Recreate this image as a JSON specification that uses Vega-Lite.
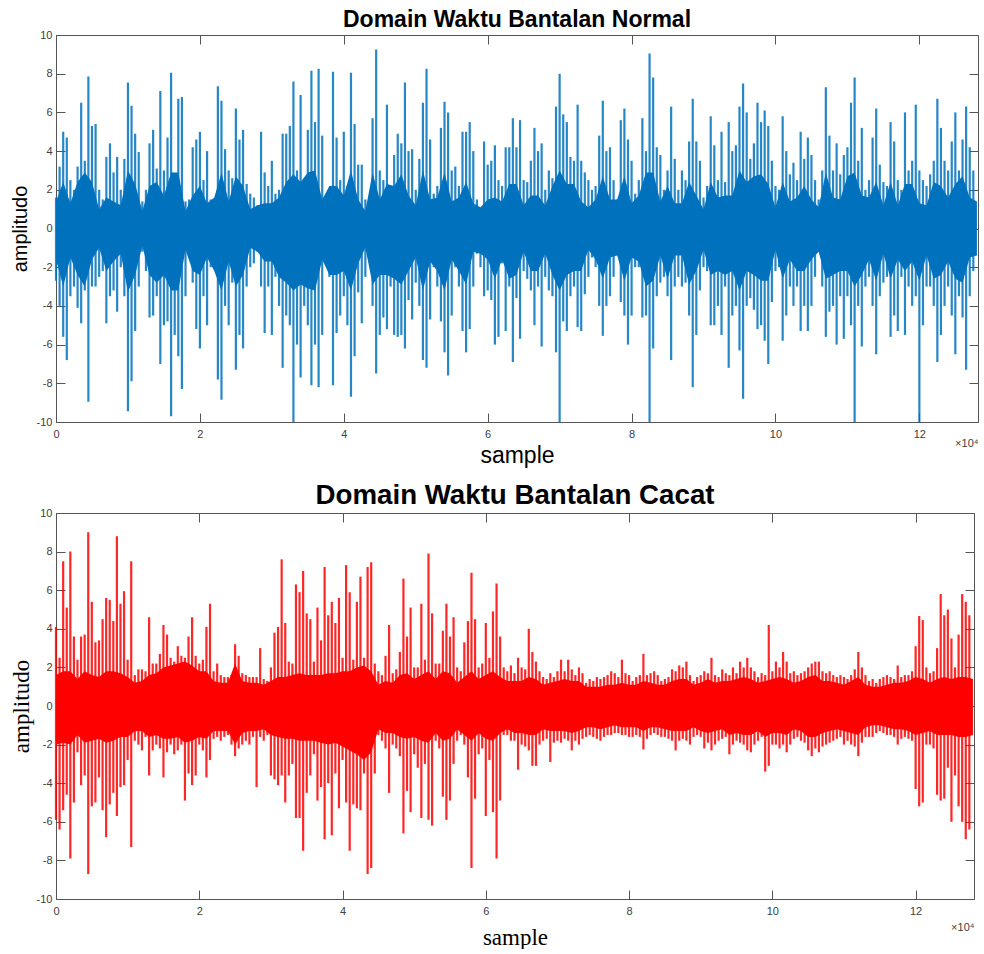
{
"$schema": "https://vega.github.io/schema/vega-lite/v6.json",
"background": "white",
"padding": {"left": 10, "top": 9, "right": 0, "bottom": 0},
"spacing": 15,
"config": {
 "view": {"stroke": null},
 "axis": {"grid": false, "zindex": 1, "domainColor": "#555555", "domainWidth": 1, "tickColor": "#555555", "tickSize": -9, "tickWidth": 1, "labelColor": "#404040", "labelFont": "Liberation Sans", "labelFontSize": 11, "labelPadding": 15, "labelOverlap": false, "labelFlush": false, "titleColor": "#000000", "titleFontWeight": "normal"}
},
"datasets": {
"topBins": [
{"s":0,"h":1.6,"l":-2.7},{"s":500,"h":3.2,"l":-4},{"s":1000,"h":5,"l":-5.6},{"s":1500,"h":4.7,"l":-6.8},{"s":2000,"h":2.5,"l":-3.5},{"s":2500,"h":2,"l":-3},{"s":3000,"h":3.2,"l":-4.1},{"s":3500,"h":6.5,"l":-4.9},{"s":4000,"h":3.5,"l":-3.2},{"s":4500,"h":7.85,"l":-8.95},
{"s":5000,"h":5.3,"l":-3},{"s":5500,"h":5.4,"l":-3},{"s":6000,"h":2,"l":-2.5},{"s":6500,"h":1.5,"l":-2.2},{"s":7000,"h":3.7,"l":-4.9},{"s":7500,"h":4.4,"l":-3.5},{"s":8000,"h":2.9,"l":-3.2},{"s":8500,"h":3.7,"l":-4.3},{"s":9000,"h":2,"l":-2},{"s":9500,"h":3.6,"l":-3.5},
{"s":10000,"h":7.55,"l":-9.45},{"s":10500,"h":6.35,"l":-7.9},{"s":11000,"h":4.9,"l":-5.3},{"s":11500,"h":3.95,"l":-3},{"s":12000,"h":1.4,"l":-1.2},{"s":12500,"h":2,"l":-2.2},{"s":13000,"h":4.4,"l":-4.6},{"s":13500,"h":5.1,"l":-4.5},{"s":14000,"h":3.1,"l":-3.5},{"s":14500,"h":7.1,"l":-7},
{"s":15000,"h":3,"l":-5},{"s":15500,"h":4.7,"l":-4.8},{"s":16000,"h":8.05,"l":-9.7},{"s":16500,"h":2.5,"l":-5.5},{"s":17000,"h":6.7,"l":-6.6},{"s":17500,"h":6.8,"l":-8.3},{"s":18000,"h":1.4,"l":-3.5},{"s":18500,"h":1.5,"l":-1.5},{"s":19000,"h":4.2,"l":-2.8},{"s":19500,"h":4.6,"l":-5.2},
{"s":20000,"h":5,"l":-6.2},{"s":20500,"h":2.5,"l":-3.5},{"s":21000,"h":4,"l":-5},{"s":21500,"h":1.5,"l":-2},{"s":22000,"h":1.2,"l":-1.2},{"s":22500,"h":7.35,"l":-7.8},{"s":23000,"h":6.6,"l":-8.85},{"s":23500,"h":4.1,"l":-4},{"s":24000,"h":3,"l":-5},{"s":24500,"h":2.6,"l":-2.8},
{"s":25000,"h":6.2,"l":-7.3},{"s":25500,"h":4.6,"l":-5.5},{"s":26000,"h":5.1,"l":-6.2},{"s":26500,"h":2.3,"l":-3},{"s":27000,"h":1.8,"l":-2},{"s":27500,"h":1.6,"l":-1.8},{"s":28000,"h":1.2,"l":-1.2},{"s":28500,"h":5,"l":-3},{"s":29000,"h":2.9,"l":-5.4},{"s":29500,"h":2.2,"l":-3},
{"s":30000,"h":3.5,"l":-5.5},{"s":30500,"h":1.8,"l":-2.5},{"s":31000,"h":2,"l":-4},{"s":31500,"h":4.9,"l":-7.2},{"s":32000,"h":4.9,"l":-4.5},{"s":32500,"h":5.3,"l":-5},{"s":33000,"h":7.6,"l":-10},{"s":33500,"h":3,"l":-6},{"s":34000,"h":6.9,"l":-7.7},{"s":34500,"h":2.2,"l":-4},
{"s":35000,"h":5.1,"l":-5},{"s":35500,"h":8.15,"l":-8.1},{"s":36000,"h":5.5,"l":-6},{"s":36500,"h":8.25,"l":-8.2},{"s":37000,"h":4.8,"l":-5.5},{"s":37500,"h":1.3,"l":-1.5},{"s":38000,"h":2,"l":-2.5},{"s":38500,"h":8.1,"l":-8.1},{"s":39000,"h":4.7,"l":-5.4},{"s":39500,"h":2.5,"l":-4.5},
{"s":40000,"h":5,"l":-3.5},{"s":40500,"h":2.2,"l":-5},{"s":41000,"h":8.05,"l":-8.7},{"s":41500,"h":5.4,"l":-6.6},{"s":42000,"h":3.3,"l":-3.3},{"s":42500,"h":3.3,"l":-4.9},{"s":43000,"h":1.5,"l":-2.5},{"s":43500,"h":1.2,"l":-1.5},{"s":44000,"h":5.7,"l":-4},{"s":44500,"h":9.25,"l":-7.5},
{"s":45000,"h":3,"l":-5.5},{"s":45500,"h":2.5,"l":-4.6},{"s":46000,"h":6.4,"l":-5.2},{"s":46500,"h":2,"l":-3},{"s":47000,"h":3.8,"l":-5.5},{"s":47500,"h":4.9,"l":-5.6},{"s":48000,"h":4.4,"l":-5.5},{"s":48500,"h":7.55,"l":-6.2},{"s":49000,"h":4,"l":-3.7},{"s":49500,"h":4.1,"l":-4.7},
{"s":50000,"h":2,"l":-2.8},{"s":50500,"h":3.6,"l":-4},{"s":51000,"h":6.5,"l":-6.8},{"s":51500,"h":8.25,"l":-7.2},{"s":52000,"h":4.6,"l":-4.7},{"s":52500,"h":1.8,"l":-2},{"s":53000,"h":2.2,"l":-3},{"s":53500,"h":5.2,"l":-4.8},{"s":54000,"h":6.55,"l":-6.4},{"s":54500,"h":6,"l":-7.6},
{"s":55000,"h":3,"l":-4.5},{"s":55500,"h":3.2,"l":-2},{"s":56000,"h":2.2,"l":-3},{"s":56500,"h":5,"l":-5.3},{"s":57000,"h":5,"l":-6.4},{"s":57500,"h":5.5,"l":-5.2},{"s":58000,"h":4,"l":-3},{"s":58500,"h":1.5,"l":-1.3},{"s":59000,"h":1,"l":-2},{"s":59500,"h":4.5,"l":-3.5},
{"s":60000,"h":3.3,"l":-3.2},{"s":60500,"h":3.5,"l":-3.7},{"s":61000,"h":4.3,"l":-6},{"s":61500,"h":2.5,"l":-5.6},{"s":62000,"h":2.2,"l":-1.8},{"s":62500,"h":4.2,"l":-5.3},{"s":63000,"h":4.2,"l":-3},{"s":63500,"h":5.7,"l":-6.9},{"s":64000,"h":4.2,"l":-3.6},{"s":64500,"h":5.6,"l":-5.7},
{"s":65000,"h":2.5,"l":-2.2},{"s":65500,"h":2.4,"l":-2.6},{"s":66000,"h":3.5,"l":-3.2},{"s":66500,"h":5.2,"l":-5},{"s":67000,"h":4,"l":-3},{"s":67500,"h":4.4,"l":-6.1},{"s":68000,"h":2,"l":-2.5},{"s":68500,"h":3,"l":-3.2},{"s":69000,"h":2.6,"l":-3.5},{"s":69500,"h":6.3,"l":-6.4},
{"s":70000,"h":8,"l":-10},{"s":70500,"h":5.9,"l":-4.8},{"s":71000,"h":5.5,"l":-5.3},{"s":71500,"h":3.7,"l":-3.5},{"s":72000,"h":3.5,"l":-3},{"s":72500,"h":6.4,"l":-5.1},{"s":73000,"h":3.5,"l":-5.3},{"s":73500,"h":2.9,"l":-3.4},{"s":74000,"h":2.5,"l":-2.5},{"s":74500,"h":2,"l":-1.5},
{"s":75000,"h":2.2,"l":-2},{"s":75500,"h":4.8,"l":-4},{"s":76000,"h":6.6,"l":-5.55},{"s":76500,"h":4,"l":-4},{"s":77000,"h":4.2,"l":-3.5},{"s":77500,"h":2.5,"l":-2.5},{"s":78000,"h":1.5,"l":-1.2},{"s":78500,"h":5.6,"l":-3.8},{"s":79000,"h":6.2,"l":-4.5},{"s":79500,"h":4.6,"l":-6},
{"s":80000,"h":3.5,"l":-4.5},{"s":80500,"h":1.8,"l":-2},{"s":81000,"h":2.5,"l":-2},{"s":81500,"h":5.7,"l":-4.6},{"s":82000,"h":4,"l":-4.5},{"s":82500,"h":9.05,"l":-10},{"s":83000,"h":7.8,"l":-6.2},{"s":83500,"h":4.2,"l":-3.5},{"s":84000,"h":3.8,"l":-2.8},{"s":84500,"h":2,"l":-2.5},
{"s":85000,"h":3,"l":-3.5},{"s":85500,"h":6.3,"l":-6.8},{"s":86000,"h":3.6,"l":-3},{"s":86500,"h":2,"l":-2.5},{"s":87000,"h":3,"l":-3},{"s":87500,"h":2.5,"l":-2.8},{"s":88000,"h":4.5,"l":-4.5},{"s":88500,"h":6.7,"l":-8.2},{"s":89000,"h":4.5,"l":-5.5},{"s":89500,"h":3.5,"l":-3.2},
{"s":90000,"h":1.6,"l":-2},{"s":90500,"h":2.2,"l":-2.2},{"s":91000,"h":5.8,"l":-5},{"s":91500,"h":4.3,"l":-5},{"s":92000,"h":2.5,"l":-4},{"s":92500,"h":5,"l":-5.5},{"s":93000,"h":2.4,"l":-3},{"s":93500,"h":5.5,"l":-7.2},{"s":94000,"h":4,"l":-4.5},{"s":94500,"h":4.3,"l":-4},
{"s":95000,"h":6.3,"l":-6.3},{"s":95500,"h":7.5,"l":-8.8},{"s":96000,"h":6,"l":-4},{"s":96500,"h":3.6,"l":-3.6},{"s":97000,"h":4.4,"l":-4.2},{"s":97500,"h":6.5,"l":-5.2},{"s":98000,"h":5.5,"l":-5},{"s":98500,"h":6.1,"l":-5.8},{"s":99000,"h":5.3,"l":-7},{"s":99500,"h":3.5,"l":-3.8},
{"s":100000,"h":2.2,"l":-2.2},{"s":100500,"h":2,"l":-2},{"s":101000,"h":5.8,"l":-5.8},{"s":101500,"h":4,"l":-4.5},{"s":102000,"h":2.8,"l":-3},{"s":102500,"h":3.4,"l":-4},{"s":103000,"h":2.5,"l":-3},{"s":103500,"h":5,"l":-5.3},{"s":104000,"h":3.6,"l":-4},{"s":104500,"h":4.7,"l":-5.3},
{"s":105000,"h":3.8,"l":-4},{"s":105500,"h":2.5,"l":-2.5},{"s":106000,"h":1.5,"l":-1.2},{"s":106500,"h":3,"l":-3},{"s":107000,"h":7.3,"l":-5.6},{"s":107500,"h":4.8,"l":-4.3},{"s":108000,"h":3,"l":-4},{"s":108500,"h":4.4,"l":-6},{"s":109000,"h":2.8,"l":-3.5},{"s":109500,"h":3.8,"l":-5.7},
{"s":110000,"h":4.2,"l":-3.5},{"s":110500,"h":6.5,"l":-5},{"s":111000,"h":7.8,"l":-10},{"s":111500,"h":3.5,"l":-4},{"s":112000,"h":5.2,"l":-6.1},{"s":112500,"h":2,"l":-3},{"s":113000,"h":2.5,"l":-2.5},{"s":113500,"h":4.7,"l":-4},{"s":114000,"h":6.2,"l":-6.5},{"s":114500,"h":3.3,"l":-3.5},
{"s":115000,"h":2.4,"l":-2.8},{"s":115500,"h":2.2,"l":-2.5},{"s":116000,"h":5.5,"l":-5.6},{"s":116500,"h":4.5,"l":-4.5},{"s":117000,"h":2.5,"l":-5.3},{"s":117500,"h":2,"l":-2.5},{"s":118000,"h":6,"l":-5.5},{"s":118500,"h":3,"l":-3},{"s":119000,"h":3.5,"l":-4},{"s":119500,"h":6.4,"l":-3.5},
{"s":120000,"h":3,"l":-10},{"s":120500,"h":2.5,"l":-5},{"s":121000,"h":2.2,"l":-3},{"s":121500,"h":2.8,"l":-3},{"s":122000,"h":3.5,"l":-4},{"s":122500,"h":6.7,"l":-6.9},{"s":123000,"h":5.2,"l":-5.5},{"s":123500,"h":3.5,"l":-4},{"s":124000,"h":3,"l":-3},{"s":124500,"h":4.5,"l":-4.5},
{"s":125000,"h":6,"l":-6.5},{"s":125500,"h":3,"l":-3.5},{"s":126000,"h":4.6,"l":-4.6},{"s":126500,"h":6.3,"l":-7.3},{"s":127000,"h":4.2,"l":-3.5},{"s":127500,"h":3,"l":-2.2}
],
"topCore": [
{"s":0,"a":1.4,"b":-1.6},{"s":1000,"a":2.4,"b":-3},{"s":2000,"a":1.3,"b":-1.5},{"s":3000,"a":2.4,"b":-2.4},{"s":4000,"a":2.9,"b":-3},{"s":5000,"a":2.4,"b":-1.6},{"s":6000,"a":1,"b":-1},{"s":7000,"a":1.6,"b":-2.2},{"s":8000,"a":1.4,"b":-1.7},{"s":9000,"a":1.2,"b":-1.3},
{"s":10000,"a":3,"b":-3.3},{"s":11000,"a":2.3,"b":-2.4},{"s":12000,"a":0.9,"b":-0.9},{"s":13000,"a":2.2,"b":-2.4},{"s":14000,"a":2.4,"b":-2.8},{"s":15000,"a":1.7,"b":-2.4},{"s":16000,"a":2.9,"b":-3.2},{"s":17000,"a":2.9,"b":-3.2},{"s":18000,"a":0.9,"b":-1.1},{"s":19000,"a":1.7,"b":-2.2},
{"s":20000,"a":2.2,"b":-2.4},{"s":21000,"a":1.3,"b":-1.5},{"s":22000,"a":1.6,"b":-2.2},{"s":23000,"a":2.9,"b":-3.2},{"s":24000,"a":1.4,"b":-1.7},{"s":25000,"a":2.7,"b":-3},{"s":26000,"a":2.2,"b":-2.4},{"s":27000,"a":1,"b":-1},{"s":28000,"a":1.2,"b":-1.2},{"s":29000,"a":1.3,"b":-1.7},
{"s":30000,"a":1.3,"b":-1.7},{"s":31000,"a":1.6,"b":-2.5},{"s":32000,"a":2.4,"b":-2.8},{"s":33000,"a":2.8,"b":-3.2},{"s":34000,"a":2.4,"b":-2.9},{"s":35000,"a":2.9,"b":-3.1},{"s":36000,"a":3,"b":-3.2},{"s":37000,"a":1.5,"b":-1.6},{"s":38000,"a":2.2,"b":-2.4},{"s":39000,"a":2.2,"b":-2.4},
{"s":40000,"a":1.7,"b":-2.2},{"s":41000,"a":3,"b":-3.2},{"s":42000,"a":1.5,"b":-1.8},{"s":43000,"a":0.9,"b":-1},{"s":44000,"a":2.9,"b":-2.9},{"s":45000,"a":1.5,"b":-2.4},{"s":46000,"a":2.3,"b":-2.4},{"s":47000,"a":2.2,"b":-2.6},{"s":48000,"a":2.8,"b":-2.9},{"s":49000,"a":1.7,"b":-2.2},
{"s":50000,"a":1.2,"b":-1.5},{"s":51000,"a":3,"b":-3.2},{"s":52000,"a":1.5,"b":-1.7},{"s":53000,"a":1.6,"b":-2.2},{"s":54000,"a":2.9,"b":-3.2},{"s":55000,"a":1.4,"b":-1.6},{"s":56000,"a":1.6,"b":-2.2},{"s":57000,"a":2.4,"b":-2.9},{"s":58000,"a":1.3,"b":-1.2},{"s":59000,"a":1.1,"b":-1.3},
{"s":60000,"a":1.5,"b":-1.6},{"s":61000,"a":1.6,"b":-2.6},{"s":62000,"a":1.4,"b":-1.6},{"s":63000,"a":2.3,"b":-2.6},{"s":64000,"a":2.3,"b":-2.4},{"s":65000,"a":1.2,"b":-1.2},{"s":66000,"a":1.7,"b":-2.2},{"s":67000,"a":1.7,"b":-2.2},{"s":68000,"a":1.2,"b":-1.3},{"s":69000,"a":2.2,"b":-2.4},
{"s":70000,"a":3,"b":-3.2},{"s":71000,"a":2.3,"b":-2.4},{"s":72000,"a":2.3,"b":-2.2},{"s":73000,"a":1.4,"b":-2.2},{"s":74000,"a":1.1,"b":-1.1},{"s":75000,"a":1.5,"b":-1.6},{"s":76000,"a":2.7,"b":-2.6},{"s":77000,"a":1.5,"b":-1.5},{"s":78000,"a":1.5,"b":-1.4},{"s":79000,"a":2.7,"b":-2.7},
{"s":80000,"a":1.3,"b":-1.5},{"s":81000,"a":1.7,"b":-1.7},{"s":82000,"a":2.9,"b":-3},{"s":83000,"a":2.9,"b":-2.7},{"s":84000,"a":1.4,"b":-1.4},{"s":85000,"a":2.2,"b":-2.6},{"s":86000,"a":1.3,"b":-1.4},{"s":87000,"a":1.3,"b":-1.4},{"s":88000,"a":2.4,"b":-2.9},{"s":89000,"a":1.7,"b":-2.2},
{"s":90000,"a":1,"b":-1.1},{"s":91000,"a":2.4,"b":-2.4},{"s":92000,"a":1.6,"b":-2.2},{"s":93000,"a":1.7,"b":-2.4},{"s":94000,"a":1.7,"b":-2.2},{"s":95000,"a":3,"b":-3.2},{"s":96000,"a":2.4,"b":-2.2},{"s":97000,"a":2.7,"b":-2.4},{"s":98000,"a":2.8,"b":-2.7},{"s":99000,"a":2.3,"b":-2.7},
{"s":100000,"a":1.1,"b":-1.1},{"s":101000,"a":2.4,"b":-2.6},{"s":102000,"a":1.4,"b":-1.6},{"s":103000,"a":1.6,"b":-2.2},{"s":104000,"a":2.2,"b":-2.2},{"s":105000,"a":1.5,"b":-1.6},{"s":106000,"a":1.1,"b":-1.2},{"s":107000,"a":2.9,"b":-2.6},{"s":108000,"a":1.6,"b":-2.4},{"s":109000,"a":1.5,"b":-2.2},
{"s":110000,"a":2.7,"b":-2.2},{"s":111000,"a":2.9,"b":-3},{"s":112000,"a":1.7,"b":-2.4},{"s":113000,"a":1.6,"b":-1.6},{"s":114000,"a":2.4,"b":-2.7},{"s":115000,"a":1.2,"b":-1.3},{"s":116000,"a":2.4,"b":-2.6},{"s":117000,"a":1.2,"b":-1.6},{"s":118000,"a":2.3,"b":-2.2},{"s":119000,"a":2.3,"b":-1.7},
{"s":120000,"a":1.3,"b":-2.7},{"s":121000,"a":1.2,"b":-1.4},{"s":122000,"a":2.4,"b":-2.6},{"s":123000,"a":2.2,"b":-2.4},{"s":124000,"a":1.6,"b":-1.7},{"s":125000,"a":2.3,"b":-2.6},{"s":126000,"a":2.7,"b":-2.8},{"s":127000,"a":1.6,"b":-1.5},{"s":128000,"a":1.4,"b":-1.4}
],
"botBins": [
{"s":0,"h":4.1,"l":-5.9},{"s":500,"h":2.5,"l":-6.4},{"s":1000,"h":7.5,"l":-5.4},{"s":1500,"h":5.1,"l":-4.6},{"s":2000,"h":8,"l":-7.9},{"s":2500,"h":3.6,"l":-5},{"s":3000,"h":2.4,"l":-2.4},{"s":3500,"h":3.6,"l":-4.1},{"s":4000,"h":3.7,"l":-3.6},{"s":4500,"h":9,"l":-8.7},
{"s":5000,"h":5.4,"l":-5.2},{"s":5500,"h":3.3,"l":-5},{"s":6000,"h":3.4,"l":-3.7},{"s":6500,"h":4.5,"l":-5.4},{"s":7000,"h":5.6,"l":-6.8},{"s":7500,"h":5.5,"l":-5.1},{"s":8000,"h":4.4,"l":-4.5},{"s":8500,"h":8.8,"l":-5.7},{"s":9000,"h":5.3,"l":-4.2},{"s":9500,"h":5.95,"l":-4.1},
{"s":10000,"h":2.4,"l":-2.8},{"s":10500,"h":7.5,"l":-7.3},{"s":11000,"h":1.6,"l":-1.8},{"s":11500,"h":1.9,"l":-2},{"s":12000,"h":1.9,"l":-2.3},{"s":12500,"h":1.8,"l":-1.6},{"s":13000,"h":4.6,"l":-3.6},{"s":13500,"h":2.2,"l":-2.3},{"s":14000,"h":2.2,"l":-2},{"s":14500,"h":2.7,"l":-2.2},
{"s":15000,"h":4.2,"l":-3.7},{"s":15500,"h":3.7,"l":-2.4},{"s":16000,"h":2.5,"l":-2},{"s":16500,"h":2.3,"l":-2.5},{"s":17000,"h":3.1,"l":-2.3},{"s":17500,"h":2.6,"l":-2},{"s":18000,"h":2.5,"l":-4.9},{"s":18500,"h":3.6,"l":-3.5},{"s":19000,"h":4.6,"l":-4.1},{"s":19500,"h":2.6,"l":-3.6},
{"s":20000,"h":2.2,"l":-2},{"s":20500,"h":2.4,"l":-2.3},{"s":21000,"h":4.1,"l":-3.7},{"s":21500,"h":5.3,"l":-2.8},{"s":22000,"h":1.8,"l":-1.7},{"s":22500,"h":2.2,"l":-1.6},{"s":23000,"h":1.6,"l":-1.8},{"s":23500,"h":1.5,"l":-1.6},{"s":24000,"h":1.5,"l":-1.5},{"s":24500,"h":1.6,"l":-2},
{"s":25000,"h":3.2,"l":-2.6},{"s":25500,"h":2.6,"l":-2.2},{"s":26000,"h":1.7,"l":-2},{"s":26500,"h":1.6,"l":-1.8},{"s":27000,"h":1.5,"l":-2},{"s":27500,"h":1.5,"l":-1.6},{"s":28000,"h":1.5,"l":-4.2},{"s":28500,"h":3,"l":-1.6},{"s":29000,"h":1.4,"l":-1.8},{"s":29500,"h":1.3,"l":-1.5},
{"s":30000,"h":2,"l":-3.6},{"s":30500,"h":3.8,"l":-3.8},{"s":31000,"h":4.1,"l":-4.1},{"s":31500,"h":7.6,"l":-3.6},{"s":32000,"h":4.3,"l":-5},{"s":32500,"h":2.3,"l":-3.6},{"s":33000,"h":2.2,"l":-3},{"s":33500,"h":6.3,"l":-5.8},{"s":34000,"h":5.9,"l":-5.8},{"s":34500,"h":7,"l":-7.5},
{"s":35000,"h":4.8,"l":-4.5},{"s":35500,"h":4.5,"l":-3.6},{"s":36000,"h":2.3,"l":-2.5},{"s":36500,"h":5.1,"l":-4.9},{"s":37000,"h":3.4,"l":-4.2},{"s":37500,"h":7.2,"l":-6.9},{"s":38000,"h":4.7,"l":-4},{"s":38500,"h":5.4,"l":-6.7},{"s":39000,"h":4.3,"l":-3.5},{"s":39500,"h":5.6,"l":-5.3},
{"s":40000,"h":2.5,"l":-2.8},{"s":40500,"h":7.3,"l":-5},{"s":41000,"h":5.9,"l":-7.5},{"s":41500,"h":2.4,"l":-5.1},{"s":42000,"h":5.4,"l":-5.3},{"s":42500,"h":6.7,"l":-5.4},{"s":43000,"h":2.5,"l":-3.5},{"s":43500,"h":7.2,"l":-8.7},{"s":44000,"h":7.45,"l":-8.4},{"s":44500,"h":2.2,"l":-3.5},
{"s":45000,"h":1.8,"l":-1.5},{"s":45500,"h":1.6,"l":-1.8},{"s":46000,"h":2.6,"l":-2.2},{"s":46500,"h":4.2,"l":-4.5},{"s":47000,"h":1.7,"l":-2},{"s":47500,"h":1.9,"l":-2.2},{"s":48000,"h":2.8,"l":-2.6},{"s":48500,"h":6.6,"l":-6.6},{"s":49000,"h":3.6,"l":-4.4},{"s":49500,"h":5.1,"l":-5.5},
{"s":50000,"h":2,"l":-2.5},{"s":50500,"h":2,"l":-3.2},{"s":51000,"h":5.3,"l":-5.8},{"s":51500,"h":2.4,"l":-3},{"s":52000,"h":7.9,"l":-5.9},{"s":52500,"h":4.8,"l":-6.2},{"s":53000,"h":2.2,"l":-1.8},{"s":53500,"h":2.2,"l":-2.2},{"s":54000,"h":3.9,"l":-4.7},{"s":54500,"h":5.3,"l":-5.9},
{"s":55000,"h":3.6,"l":-4.9},{"s":55500,"h":4.6,"l":-3},{"s":56000,"h":2,"l":-1.8},{"s":56500,"h":1.8,"l":-1.5},{"s":57000,"h":3.3,"l":-2},{"s":57500,"h":4.4,"l":-3.7},{"s":58000,"h":6.9,"l":-8.4},{"s":58500,"h":4.5,"l":-4.8},{"s":59000,"h":2,"l":-2.5},{"s":59500,"h":2.2,"l":-2.2},
{"s":60000,"h":4.3,"l":-5.7},{"s":60500,"h":2.5,"l":-2.8},{"s":61000,"h":4.9,"l":-5.5},{"s":61500,"h":6.35,"l":-7.9},{"s":62000,"h":3.6,"l":-4.9},{"s":62500,"h":2,"l":-1.5},{"s":63000,"h":1.8,"l":-1.5},{"s":63500,"h":2.1,"l":-1.8},{"s":64000,"h":1.7,"l":-1.8},{"s":64500,"h":2.5,"l":-3.3},
{"s":65000,"h":2,"l":-2},{"s":65500,"h":1.9,"l":-2.1},{"s":66000,"h":4,"l":-2.3},{"s":66500,"h":2.8,"l":-3.1},{"s":67000,"h":2.3,"l":-3.1},{"s":67500,"h":1.8,"l":-2},{"s":68000,"h":1.5,"l":-1.8},{"s":68500,"h":1.4,"l":-1.7},{"s":69000,"h":1.7,"l":-2.9},{"s":69500,"h":1.5,"l":-1.9},
{"s":70000,"h":1.8,"l":-1.8},{"s":70500,"h":2.4,"l":-1.9},{"s":71000,"h":1.8,"l":-1.7},{"s":71500,"h":2.4,"l":-1.8},{"s":72000,"h":1.9,"l":-2.3},{"s":72500,"h":1.6,"l":-1.8},{"s":73000,"h":2,"l":-2},{"s":73500,"h":1.7,"l":-1.7},{"s":74000,"h":1.2,"l":-1.6},{"s":74500,"h":1.4,"l":-1.5},
{"s":75000,"h":1.3,"l":-1.6},{"s":75500,"h":1.5,"l":-1.7},{"s":76000,"h":1.4,"l":-1.8},{"s":76500,"h":1.5,"l":-1.6},{"s":77000,"h":1.6,"l":-1.5},{"s":77500,"h":1.8,"l":-1.5},{"s":78000,"h":1.7,"l":-1.4},{"s":78500,"h":1.5,"l":-1.4},{"s":79000,"h":2.4,"l":-1.5},{"s":79500,"h":1.7,"l":-1.5},
{"s":80000,"h":1.6,"l":-1.6},{"s":80500,"h":1.3,"l":-1.6},{"s":81000,"h":1.5,"l":-1.5},{"s":81500,"h":1.6,"l":-1.6},{"s":82000,"h":2.7,"l":-2.25},{"s":82500,"h":1.6,"l":-1.7},{"s":83000,"h":1.7,"l":-1.5},{"s":83500,"h":1.8,"l":-1.4},{"s":84000,"h":1.6,"l":-1.5},{"s":84500,"h":1.3,"l":-1.6},
{"s":85000,"h":1.4,"l":-1.6},{"s":85500,"h":1.5,"l":-1.7},{"s":86000,"h":1.9,"l":-1.8},{"s":86500,"h":1.8,"l":-2.3},{"s":87000,"h":2.1,"l":-1.8},{"s":87500,"h":2,"l":-1.7},{"s":88000,"h":2.3,"l":-1.8},{"s":88500,"h":1.6,"l":-2},{"s":89000,"h":1.3,"l":-1.6},{"s":89500,"h":1.5,"l":-1.5},
{"s":90000,"h":1.6,"l":-1.6},{"s":90500,"h":1.8,"l":-2.2},{"s":91000,"h":1.7,"l":-1.9},{"s":91500,"h":2.5,"l":-2.3},{"s":92000,"h":1.6,"l":-2},{"s":92500,"h":1.5,"l":-1.8},{"s":93000,"h":1.9,"l":-1.7},{"s":93500,"h":1.7,"l":-1.6},{"s":94000,"h":1.6,"l":-2.5},{"s":94500,"h":2,"l":-2},
{"s":95000,"h":1.7,"l":-1.8},{"s":95500,"h":2.3,"l":-1.9},{"s":96000,"h":2,"l":-2},{"s":96500,"h":2.5,"l":-2.3},{"s":97000,"h":2,"l":-2.4},{"s":97500,"h":1.8,"l":-2},{"s":98000,"h":1.5,"l":-1.8},{"s":98500,"h":1.7,"l":-1.6},{"s":99000,"h":1.6,"l":-3.4},{"s":99500,"h":4.2,"l":-3.1},
{"s":100000,"h":1.8,"l":-2},{"s":100500,"h":2.3,"l":-2},{"s":101000,"h":2,"l":-2.2},{"s":101500,"h":2.8,"l":-2},{"s":102000,"h":2.3,"l":-2.4},{"s":102500,"h":1.7,"l":-2},{"s":103000,"h":1.8,"l":-1.7},{"s":103500,"h":1.6,"l":-1.6},{"s":104000,"h":1.7,"l":-1.8},{"s":104500,"h":1.8,"l":-1.9},
{"s":105000,"h":2,"l":-2.3},{"s":105500,"h":2.2,"l":-2.6},{"s":106000,"h":2.3,"l":-2.2},{"s":106500,"h":2.3,"l":-2.4},{"s":107000,"h":1.8,"l":-2.1},{"s":107500,"h":1.7,"l":-2},{"s":108000,"h":1.8,"l":-1.9},{"s":108500,"h":1.6,"l":-1.8},{"s":109000,"h":1.5,"l":-1.7},{"s":109500,"h":1.6,"l":-1.6},
{"s":110000,"h":1.5,"l":-2},{"s":110500,"h":1.4,"l":-1.8},{"s":111000,"h":1.6,"l":-2},{"s":111500,"h":1.9,"l":-2.1},{"s":112000,"h":2.8,"l":-2.6},{"s":112500,"h":2,"l":-1.9},{"s":113000,"h":1.6,"l":-1.6},{"s":113500,"h":1.3,"l":-1.6},{"s":114000,"h":1.4,"l":-1.6},{"s":114500,"h":1.2,"l":-1.4},
{"s":115000,"h":1.4,"l":-1.3},{"s":115500,"h":1.5,"l":-1.4},{"s":116000,"h":1.6,"l":-1.5},{"s":116500,"h":1.5,"l":-1.5},{"s":117000,"h":1.4,"l":-1.6},{"s":117500,"h":2.1,"l":-2},{"s":118000,"h":1.5,"l":-1.7},{"s":118500,"h":1.6,"l":-1.6},{"s":119000,"h":1.6,"l":-1.7},{"s":119500,"h":1.8,"l":-1.8},
{"s":120000,"h":3.1,"l":-4.3},{"s":120500,"h":4.66,"l":-5.2},{"s":121000,"h":4.45,"l":-5},{"s":121500,"h":2,"l":-2},{"s":122000,"h":1.7,"l":-2},{"s":122500,"h":1.8,"l":-2.2},{"s":123000,"h":3,"l":-4.6},{"s":123500,"h":5.8,"l":-4.9},{"s":124000,"h":4.7,"l":-4.8},{"s":124500,"h":5,"l":-3.2},
{"s":125000,"h":3.5,"l":-6},{"s":125500,"h":2,"l":-3.6},{"s":126000,"h":3.7,"l":-5.2},{"s":126500,"h":5.8,"l":-6},{"s":127000,"h":5.4,"l":-6.9},{"s":127500,"h":4.7,"l":-6.4}
],
"botCore": [
{"s":0,"a":1.6,"b":-2},{"s":1000,"a":1.8,"b":-1.9},{"s":2000,"a":1.8,"b":-2},{"s":3000,"a":1.4,"b":-1.5},{"s":4000,"a":1.8,"b":-1.9},{"s":5000,"a":1.6,"b":-1.8},{"s":6000,"a":1.5,"b":-1.7},{"s":7000,"a":1.8,"b":-1.9},{"s":8000,"a":1.8,"b":-1.8},{"s":9000,"a":1.7,"b":-1.6},
{"s":10000,"a":1.5,"b":-1.6},{"s":11000,"a":1.2,"b":-1.3},{"s":12000,"a":1.3,"b":-1.3},{"s":13000,"a":1.6,"b":-1.6},{"s":14000,"a":1.7,"b":-1.5},{"s":15000,"a":2,"b":-1.7},{"s":16000,"a":2.1,"b":-1.7},{"s":17000,"a":2.2,"b":-1.6},{"s":18000,"a":2.3,"b":-1.9},{"s":19000,"a":2.1,"b":-1.8},
{"s":20000,"a":1.8,"b":-1.6},{"s":21000,"a":1.8,"b":-1.7},{"s":22000,"a":1.3,"b":-1.3},{"s":23000,"a":1.2,"b":-1.3},{"s":24000,"a":1.2,"b":-1.3},{"s":25000,"a":2.2,"b":-2},{"s":26000,"a":1.3,"b":-1.4},{"s":27000,"a":1.2,"b":-1.3},{"s":28000,"a":1.2,"b":-1.3},{"s":29000,"a":1.1,"b":-1.2},
{"s":30000,"a":1.3,"b":-1.5},{"s":31000,"a":1.5,"b":-1.6},{"s":32000,"a":1.5,"b":-1.7},{"s":33000,"a":1.6,"b":-1.7},{"s":34000,"a":1.7,"b":-1.8},{"s":35000,"a":1.6,"b":-1.8},{"s":36000,"a":1.6,"b":-1.8},{"s":37000,"a":1.6,"b":-1.9},{"s":38000,"a":1.7,"b":-2},{"s":39000,"a":1.7,"b":-1.9},
{"s":40000,"a":1.8,"b":-2.1},{"s":41000,"a":1.8,"b":-2.3},{"s":42000,"a":2,"b":-2.5},{"s":43000,"a":2.1,"b":-2.8},{"s":44000,"a":1.8,"b":-2.4},{"s":45000,"a":1.1,"b":-1.2},{"s":46000,"a":1.3,"b":-1.4},{"s":47000,"a":1.2,"b":-1.4},{"s":48000,"a":1.6,"b":-1.6},{"s":49000,"a":1.7,"b":-1.7},
{"s":50000,"a":1.4,"b":-1.6},{"s":51000,"a":1.6,"b":-1.8},{"s":52000,"a":1.8,"b":-1.9},{"s":53000,"a":1.4,"b":-1.4},{"s":54000,"a":1.8,"b":-1.8},{"s":55000,"a":1.7,"b":-1.7},{"s":56000,"a":1.2,"b":-1.2},{"s":57000,"a":1.5,"b":-1.5},{"s":58000,"a":1.8,"b":-1.8},{"s":59000,"a":1.4,"b":-1.4},
{"s":60000,"a":1.6,"b":-1.7},{"s":61000,"a":1.8,"b":-1.8},{"s":62000,"a":1.5,"b":-1.4},{"s":63000,"a":1.3,"b":-1.2},{"s":64000,"a":1.3,"b":-1.4},{"s":65000,"a":1.3,"b":-1.4},{"s":66000,"a":1.5,"b":-1.5},{"s":67000,"a":1.4,"b":-1.5},{"s":68000,"a":1.1,"b":-1.2},{"s":69000,"a":1.2,"b":-1.3},
{"s":70000,"a":1.3,"b":-1.3},{"s":71000,"a":1.4,"b":-1.3},{"s":72000,"a":1.3,"b":-1.4},{"s":73000,"a":1.3,"b":-1.3},{"s":74000,"a":1,"b":-1.1},{"s":75000,"a":1,"b":-1.1},{"s":76000,"a":1,"b":-1.2},{"s":77000,"a":1.1,"b":-1.1},{"s":78000,"a":1.1,"b":-1},{"s":79000,"a":1.2,"b":-1.1},
{"s":80000,"a":1.1,"b":-1.1},{"s":81000,"a":1.1,"b":-1.1},{"s":82000,"a":1.3,"b":-1.3},{"s":83000,"a":1.2,"b":-1.1},{"s":84000,"a":1.1,"b":-1.1},{"s":85000,"a":1.1,"b":-1.2},{"s":86000,"a":1.3,"b":-1.3},{"s":87000,"a":1.4,"b":-1.3},{"s":88000,"a":1.4,"b":-1.3},{"s":89000,"a":1.1,"b":-1.1},
{"s":90000,"a":1.2,"b":-1.3},{"s":91000,"a":1.4,"b":-1.4},{"s":92000,"a":1.2,"b":-1.3},{"s":93000,"a":1.3,"b":-1.2},{"s":94000,"a":1.3,"b":-1.5},{"s":95000,"a":1.4,"b":-1.4},{"s":96000,"a":1.5,"b":-1.5},{"s":97000,"a":1.4,"b":-1.5},{"s":98000,"a":1.2,"b":-1.3},{"s":99000,"a":1.3,"b":-1.6},
{"s":100000,"a":1.4,"b":-1.4},{"s":101000,"a":1.5,"b":-1.4},{"s":102000,"a":1.4,"b":-1.5},{"s":103000,"a":1.2,"b":-1.2},{"s":104000,"a":1.3,"b":-1.3},{"s":105000,"a":1.5,"b":-1.6},{"s":106000,"a":1.6,"b":-1.6},{"s":107000,"a":1.3,"b":-1.4},{"s":108000,"a":1.3,"b":-1.3},{"s":109000,"a":1.2,"b":-1.2},
{"s":110000,"a":1.1,"b":-1.3},{"s":111000,"a":1.3,"b":-1.4},{"s":112000,"a":1.5,"b":-1.5},{"s":113000,"a":1.1,"b":-1.1},{"s":114000,"a":1,"b":-1},{"s":115000,"a":1,"b":-1},{"s":116000,"a":1.1,"b":-1.1},{"s":117000,"a":1.2,"b":-1.2},{"s":118000,"a":1.2,"b":-1.2},{"s":119000,"a":1.3,"b":-1.3},
{"s":120000,"a":1.5,"b":-1.5},{"s":121000,"a":1.4,"b":-1.4},{"s":122000,"a":1.2,"b":-1.3},{"s":123000,"a":1.4,"b":-1.5},{"s":124000,"a":1.5,"b":-1.5},{"s":125000,"a":1.4,"b":-1.5},{"s":126000,"a":1.5,"b":-1.6},{"s":127000,"a":1.5,"b":-1.6},{"s":128000,"a":1.4,"b":-1.5}
]
},
"vconcat": [
{
 "width": 922, "height": 387,
 "title": {"text": "Domain Waktu Bantalan Normal", "font": "Liberation Sans", "fontSize": 23, "fontWeight": "bold", "color": "#000000", "anchor": "middle", "frame": "group", "offset": -3},
 "layer": [
  {"data": {"name": "topCore"}, "mark": {"type": "area", "color": "#0072BD"},
   "encoding": {
    "x": {"field": "s", "type": "quantitative", "scale": {"domain": [0, 128150], "nice": false, "zero": false},
          "axis": {"orient": "bottom", "values": [0, 20000, 40000, 60000, 80000, 100000, 120000], "labelExpr": "'' + (datum.value / 10000)", "title": "sample", "titleFont": "Liberation Sans", "titleFontSize": 23, "titleY": 33, "titleBaseline": "middle"}},
    "y": {"field": "a", "type": "quantitative", "scale": {"domain": [-10, 10], "nice": false},
          "axis": {"orient": "left", "values": [-10, -8, -6, -4, -2, 0, 2, 4, 6, 8, 10], "labelExpr": "'' + datum.value", "labelPadding": 13, "title": "amplitudo", "titleFont": "Liberation Sans", "titleFontSize": 20, "titleX": -36, "titleBaseline": "middle"}},
    "y2": {"field": "b"}
   }},
  {"data": {"name": "topBins"}, "mark": {"type": "rule", "color": "#0072BD", "strokeWidth": 2.2, "strokeOpacity": 0.85},
   "encoding": {
    "x": {"field": "s", "type": "quantitative", "axis": {"orient": "top", "values": [0, 20000, 40000, 60000, 80000, 100000, 120000], "labels": false, "title": null}},
    "y": {"field": "h", "type": "quantitative", "axis": {"orient": "right", "values": [-10, -8, -6, -4, -2, 0, 2, 4, 6, 8, 10], "labels": false, "title": null}},
    "y2": {"field": "l"}
   }},
  {"data": {"name": "topCore"}, "mark": {"type": "point", "opacity": 0},
   "encoding": {
    "x": {"field": "s", "type": "quantitative", "axis": {"orient": "bottom", "domain": false, "ticks": false, "labels": false, "title": "×10⁴", "titleFont": "Liberation Sans", "titleFontSize": 11, "titleColor": "#404040", "titleX": 922, "titleY": 21, "titleAlign": "right", "titleBaseline": "middle"}},
    "y": {"field": "a", "type": "quantitative", "axis": null}
   }}
 ],
 "resolve": {"axis": {"x": "independent", "y": "independent"}}
},
{
 "width": 918, "height": 386,
 "title": {"text": "Domain Waktu Bantalan Cacat", "font": "Liberation Sans", "fontSize": 27.7, "fontWeight": "bold", "color": "#000000", "anchor": "middle", "frame": "group", "offset": -3},
 "layer": [
  {"data": {"name": "botCore"}, "mark": {"type": "area", "color": "#FF0000"},
   "encoding": {
    "x": {"field": "s", "type": "quantitative", "scale": {"domain": [0, 128150], "nice": false, "zero": false},
          "axis": {"orient": "bottom", "values": [0, 20000, 40000, 60000, 80000, 100000, 120000], "labelExpr": "'' + (datum.value / 10000)", "title": "sample", "titleFont": "Liberation Serif", "titleFontSize": 23, "titleY": 38, "titleBaseline": "middle"}},
    "y": {"field": "a", "type": "quantitative", "scale": {"domain": [-10, 10], "nice": false},
          "axis": {"orient": "left", "values": [-10, -8, -6, -4, -2, 0, 2, 4, 6, 8, 10], "labelExpr": "'' + datum.value", "labelPadding": 13, "title": "amplitudo", "titleFont": "Liberation Serif", "titleFontSize": 23, "titleX": -35, "titleBaseline": "middle"}},
    "y2": {"field": "b"}
   }},
  {"data": {"name": "botBins"}, "mark": {"type": "rule", "color": "#FF0000", "strokeWidth": 2.2, "strokeOpacity": 0.85},
   "encoding": {
    "x": {"field": "s", "type": "quantitative", "axis": {"orient": "top", "values": [0, 20000, 40000, 60000, 80000, 100000, 120000], "labels": false, "title": null}},
    "y": {"field": "h", "type": "quantitative", "axis": {"orient": "right", "values": [-10, -8, -6, -4, -2, 0, 2, 4, 6, 8, 10], "labels": false, "title": null}},
    "y2": {"field": "l"}
   }},
  {"data": {"name": "botCore"}, "mark": {"type": "point", "opacity": 0},
   "encoding": {
    "x": {"field": "s", "type": "quantitative", "axis": {"orient": "bottom", "domain": false, "ticks": false, "labels": false, "title": "×10⁴", "titleFont": "Liberation Sans", "titleFontSize": 11, "titleColor": "#404040", "titleX": 918, "titleY": 28, "titleAlign": "right", "titleBaseline": "middle"}},
    "y": {"field": "a", "type": "quantitative", "axis": null}
   }}
 ],
 "resolve": {"axis": {"x": "independent", "y": "independent"}}
}
]
}
